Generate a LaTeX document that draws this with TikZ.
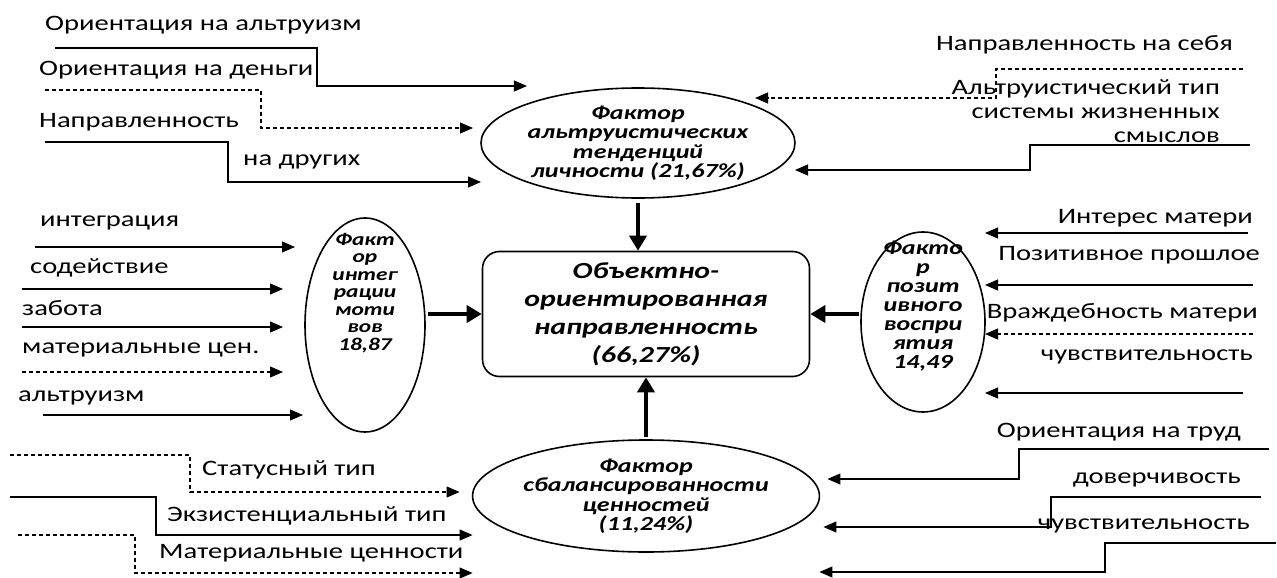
\documentclass[tikz,border=0pt]{standalone}
\usepackage{fontspec}
\setmainfont{Carlito}[FakeStretch=1.3]
\usetikzlibrary{arrows.meta,shapes.geometric}
\tikzset{
  lab/.style={inner sep=0pt,font=\fontsize{22}{24}\selectfont},
  conn/.style={line width=1.1pt,-{Triangle[length=13pt,width=11pt]}},
  dconn/.style={conn,dash pattern=on 4pt off 3pt},
  bigarr/.style={line width=4pt,-{Triangle[length=15pt,width=17pt]}},
  fac/.style={ellipse,draw,line width=1.6pt,inner sep=0pt,outer sep=0pt,align=center,
    font=\bfseries\itshape\fontsize{20}{19.5}\selectfont},
  factxt/.style={inner sep=0pt,align=center,font=\bfseries\itshape\fontsize{20}{19}\selectfont}
}
\begin{document}
\begin{tikzpicture}[x=1pt,y=-1pt]
  \useasboundingbox (0,0) rectangle (1277,578);
  \node[fac,minimum width=314pt,minimum height=110pt] (topf) at (638,143)
    {Фактор\\альтруистических\\тенденций\\личности (21,67\%)};
  \node[fac,minimum width=120pt,minimum height=214pt] (leftf) at (365,325) {};
  \node[factxt,font=\bfseries\itshape\fontsize{18}{17.5}\selectfont] (leftt) at (365,293)
    {Факт\\ор\\интег\\рации\\моти\\вов\\18,87};
  \node[fac,minimum width=124pt,minimum height=180pt] (rightf) at (923,322) {};
  \node[factxt] (rightt) at (923,306) {Факто\\р\\позит\\ивного\\воспри\\ятия\\14,49};
  \node[fac,minimum width=316pt,minimum height=112pt] (botf) at (646,496)
    {Фактор\\сбалансированности\\ценностей\\(11,24\%)};
  \node[draw,line width=1.6pt,rounded corners=17pt,minimum width=327pt,minimum height=125pt,
    align=center,font=\bfseries\itshape\fontsize{23}{28}\selectfont] (box) at (646,314)
    {Объектно-\\ориентированная\\направленность\\(66,27\%)};
  \draw[bigarr,shorten <=5pt] (topf.south) -- (topf.south |- box.north);
  \draw[bigarr,shorten <=3pt] (botf.north) -- (botf.north |- box.south);
  \draw[bigarr,shorten <=3pt] (leftf.east |- box.west) -- (box.west);
  \draw[bigarr,shorten <=2pt] (rightf.west |- box.east) -- (box.east);

  \node[lab,anchor=west] (lalt) at (45,25) {Ориентация на альтруизм};
  \node[lab,anchor=west] (lden) at (39,70) {Ориентация на деньги};
  \node[lab,anchor=west] (lnap) at (39,122) {Направленность};
  \node[lab,anchor=west] (ldrug) at (243,162) {на других};
  \coordinate (alt0) at (55,48); \coordinate (alt1) at (317,86);
  \draw[conn] (alt0) -| (alt1) -- (alt1 -| topf.north west);
  \coordinate (den0) at (45,90); \coordinate (den1) at (261,128);
  \draw[dconn,shorten >=8pt] (den0) -| (den1) -- (den1 -| topf.west);
  \coordinate (drug0) at (45,142); \coordinate (drug1) at (228,182);
  \draw[conn] (drug0) -| (drug1) -- (drug1 -| topf.west);

  \node[lab,anchor=east] (lseb) at (1233,45) {Направленность на себя};
  \node[lab,anchor=east,align=right] (lsmysl) at (1220,111)
    {Альтруистический тип\\системы жизненных\\смыслов};
  \coordinate (seb0) at (1243,69); \coordinate (seb1) at (996,98);
  \draw[dconn,shorten >=6pt] (seb0) -| (seb1) -- (seb1 -| topf.north east);
  \coordinate (sm0) at (1250,145); \coordinate (sm1) at (1030,170);
  \draw[conn] (sm0) -| (sm1) -- (sm1 -| topf.east);

  \node[lab,anchor=west] (lint) at (40,223) {интеграция};
  \node[lab,anchor=west] (lsod) at (30,268) {содействие};
  \node[lab,anchor=west] (lzab) at (22,308) {забота};
  \node[lab,anchor=west] (lmat) at (22,350) {материальные цен.};
  \node[lab,anchor=west] (laltr) at (18,398) {альтруизм};
  \coordinate (int0) at (35,247); \coordinate (sod0) at (22,289);
  \coordinate (zab0) at (22,327); \coordinate (mat0) at (22,372);
  \coordinate (altr0) at (43,415);
  \draw[conn,shorten >=10pt] (int0) -- (int0 -| leftf.west);
  \draw[conn,shorten >=22pt] (sod0) -- (sod0 -| leftf.west);
  \draw[conn,shorten >=22pt] (zab0) -- (zab0 -| leftf.west);
  \draw[dconn,shorten >=22pt] (mat0) -- (mat0 -| leftf.west);
  \draw[conn,shorten >=2pt] (altr0) -- (altr0 -| leftf.west);

  \node[lab,anchor=east] (lintm) at (1253,218) {Интерес матери};
  \node[lab,anchor=east] (lpoz) at (1260,255) {Позитивное прошлое};
  \node[lab,anchor=east] (lvra) at (1258,313) {Враждебность матери};
  \node[lab,anchor=east] (lchuv) at (1253,357) {чувствительность};
  \coordinate (intm0) at (1248,233); \coordinate (poz0) at (1253,285);
  \coordinate (vra0) at (1253,334); \coordinate (chuv0) at (1243,393);
  \draw[conn] (intm0) -- (intm0 -| rightf.east);
  \draw[conn] (poz0) -- (poz0 -| rightf.east);
  \draw[dconn] (vra0) -- (vra0 -| rightf.east);
  \draw[conn] (chuv0) -- (chuv0 -| rightf.east);

  \node[lab,anchor=west] (lstat) at (202,470) {Статусный тип};
  \node[lab,anchor=west] (lekz) at (167,516) {Экзистенциальный тип};
  \node[lab,anchor=west] (lmatc) at (159,553) {Материальные ценности};
  \coordinate (stat0) at (10,455); \coordinate (stat1) at (190,492);
  \draw[dconn,shorten >=13pt] (stat0) -| (stat1) -- (stat1 -| botf.west);
  \coordinate (ekz0) at (10,497); \coordinate (ekz1) at (156,535);
  \draw[conn] (ekz0) -| (ekz1) -- (ekz1 -| botf.west);
  \coordinate (matc0) at (18,535); \coordinate (matc1) at (135,573);
  \draw[dconn] (matc0) -| (matc1) -- (matc1 -| botf.west);

  \node[lab,anchor=east] (ltrud) at (1241,432) {Ориентация на труд};
  \node[lab,anchor=east] (ldov) at (1241,480) {доверчивость};
  \node[lab,anchor=east] (lchuv2) at (1250,526) {чувствительность};
  \coordinate (trud0) at (1269,449); \coordinate (trud1) at (1019,479);
  \draw[conn,shorten >=8pt] (trud0) -| (trud1) -- (trud1 -| botf.east);
  \coordinate (dov0) at (1261,497); \coordinate (dov1) at (1051,527);
  \draw[conn,shorten >=4pt] (dov0) -| (dov1) -- (dov1 -| botf.east);
  \coordinate (chv0) at (1276,543); \coordinate (chv1) at (1105,572);
  \draw[conn] (chv0) -| (chv1) -- (chv1 -| botf.east);
\end{tikzpicture}
\end{document}
